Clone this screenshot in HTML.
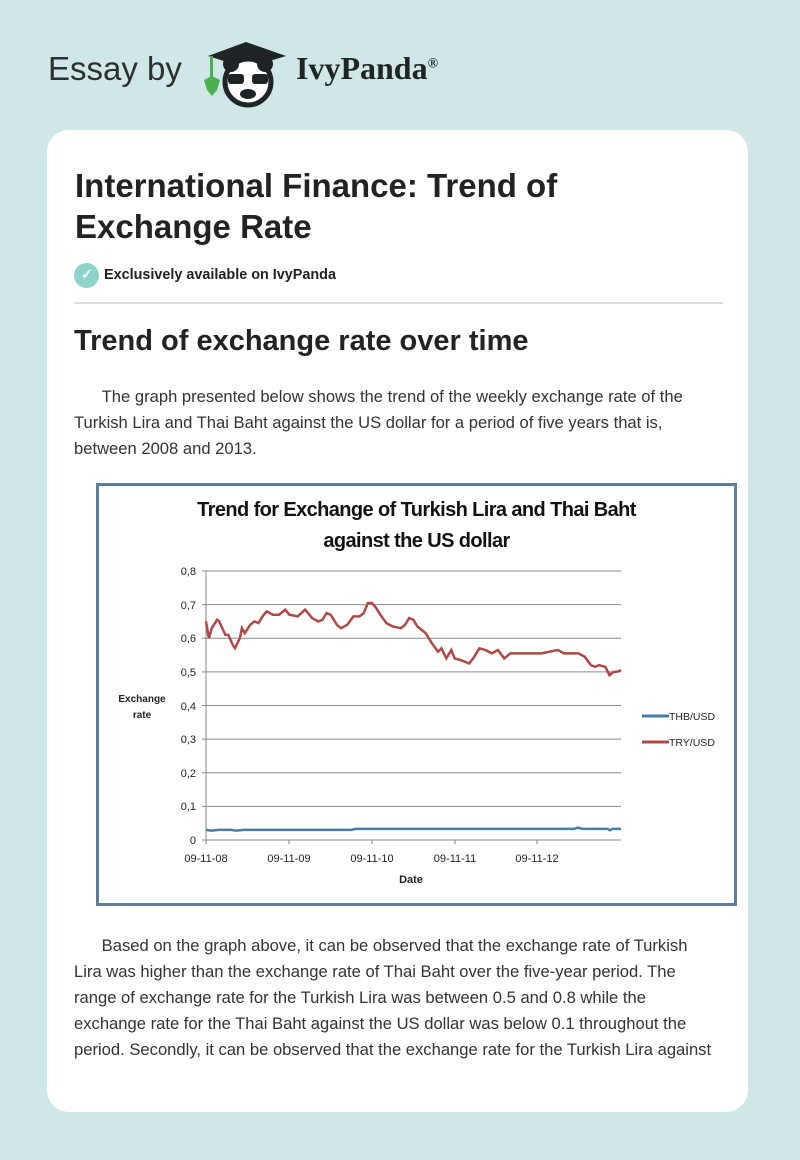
<!DOCTYPE html>
<html><head><meta charset="utf-8"><style>
*{margin:0;padding:0;box-sizing:border-box}
body{width:800px;height:1160px;background:#d0e7e7;font-family:"Liberation Sans",sans-serif;position:relative;overflow:hidden;color:#222}
.a{position:absolute;white-space:nowrap}
.card{position:absolute;left:47px;top:130px;width:701px;height:982px;background:#fff;border-radius:22px}
h1{position:absolute;left:75px;top:165px;font-size:33px;line-height:41px;font-weight:bold;color:#222;white-space:nowrap}
.p{position:absolute;left:74px;font-size:16.6px;line-height:26px;color:#333;white-space:nowrap}
</style></head><body>
<div class="a" style="left:48px;top:50px;font-size:33px;color:#2b2f31">Essay by</div>
<svg class="a" style="left:200px;top:36px" width="92" height="72" viewBox="0 0 92 72">
<polygon points="8,20 46,6 86,20 46,32" fill="#1f2426"/>
<rect x="10" y="20" width="3" height="22" fill="#4caf50"/>
<circle cx="48" cy="46" r="23" fill="#fff" stroke="#1f2426" stroke-width="5"/>
<circle cx="31" cy="28" r="8" fill="#1f2426"/><circle cx="65" cy="28" r="8" fill="#1f2426"/>
<rect x="28" y="38" width="16" height="10" rx="3" fill="#1f2426"/><rect x="52" y="38" width="16" height="10" rx="3" fill="#1f2426"/>
<ellipse cx="48" cy="58" rx="8" ry="5" fill="#1f2426"/>
<path d="M4 44 l8 -4 l8 4 l-3 10 l-5 6 l-5 -6z" fill="#4caf50"/>
</svg>
<div class="a" style="left:296px;top:50px;font-size:32px;font-weight:bold;font-family:'Liberation Serif',serif;color:#1f2426">IvyPanda<sup style="font-size:14px">®</sup></div>
<div class="card"></div>
<h1>International Finance: Trend of<br>Exchange Rate</h1>
<div class="a" style="left:74px;top:263px;width:25px;height:25px;border-radius:50%;background:#8dd3cb"></div>
<div class="a" style="left:81px;top:266px;color:#fff;font-size:14px;font-weight:bold">✓</div>
<div class="a" style="left:104px;top:267px;font-size:14.4px;font-weight:bold;color:#222">Exclusively available on IvyPanda</div>
<div class="a" style="left:74px;top:302px;width:649px;height:2px;background:#ddd"></div>
<div class="a" style="left:74px;top:325px;font-size:29px;font-weight:bold;color:#222">Trend of exchange rate over time</div>
<div class="p" style="top:384px">&nbsp;&nbsp;&nbsp;&nbsp;&nbsp;&nbsp;The graph presented below shows the trend of the weekly exchange rate of the<br>Turkish Lira and Thai Baht against the US dollar for a period of five years that is,<br>between 2008 and 2013.</div>
<div class="a" style="left:96px;top:483px;width:641px;height:423px;border:3px solid #5a7d9a;background:#fff"></div>
<div class="a" style="left:96px;top:495px;width:641px;text-align:center;font-size:20px;line-height:31px;font-weight:bold;color:#111;letter-spacing:-0.6px">Trend for Exchange of Turkish Lira and Thai Baht<br>against the US dollar</div>
<svg class="a" style="left:0;top:0" width="800" height="1160">
<g stroke="#8a8a8a" stroke-width="1">
<line x1="206" y1="571" x2="621" y2="571"/><line x1="206" y1="604.6" x2="621" y2="604.6"/><line x1="206" y1="638.2" x2="621" y2="638.2"/><line x1="206" y1="671.9" x2="621" y2="671.9"/><line x1="206" y1="705.5" x2="621" y2="705.5"/><line x1="206" y1="739.1" x2="621" y2="739.1"/><line x1="206" y1="772.7" x2="621" y2="772.7"/><line x1="206" y1="806.4" x2="621" y2="806.4"/><line x1="206" y1="840" x2="621" y2="840"/>
<line x1="206" y1="571" x2="206" y2="844"/>
<line x1="202" y1="571" x2="206" y2="571"/><line x1="202" y1="604.6" x2="206" y2="604.6"/><line x1="202" y1="638.2" x2="206" y2="638.2"/><line x1="202" y1="671.9" x2="206" y2="671.9"/><line x1="202" y1="705.5" x2="206" y2="705.5"/><line x1="202" y1="739.1" x2="206" y2="739.1"/><line x1="202" y1="772.7" x2="206" y2="772.7"/><line x1="202" y1="806.4" x2="206" y2="806.4"/><line x1="202" y1="840" x2="206" y2="840"/>
<line x1="289" y1="840" x2="289" y2="844"/><line x1="372" y1="840" x2="372" y2="844"/><line x1="455" y1="840" x2="455" y2="844"/><line x1="537" y1="840" x2="537" y2="844"/>
</g>
<g font-family="Liberation Sans,sans-serif" font-size="11" fill="#222" text-anchor="end">
<text x="196" y="575">0,8</text><text x="196" y="609">0,7</text><text x="196" y="642">0,6</text><text x="196" y="676">0,5</text><text x="196" y="710">0,4</text><text x="196" y="743">0,3</text><text x="196" y="777">0,2</text><text x="196" y="810">0,1</text><text x="196" y="844">0</text>
</g>
<g font-family="Liberation Sans,sans-serif" font-size="11" fill="#222" text-anchor="middle">
<text x="206" y="862">09-11-08</text><text x="289" y="862">09-11-09</text><text x="372" y="862">09-11-10</text><text x="455" y="862">09-11-11</text><text x="537" y="862">09-11-12</text>
<text x="411" y="883" font-weight="bold">Date</text>
<text x="142" y="702" font-weight="bold" font-size="10">Exchange</text><text x="142" y="718" font-weight="bold" font-size="10">rate</text>
</g>
<g transform="translate(95.3,840) scale(0.413,-0.33625)" fill="none">
<polyline vector-effect="non-scaling-stroke" stroke="#4a7ba6" stroke-width="2.5" points="268,30 280,28 300,30 330,30 340,28 360,30 620,30 630,33 1160,33 1168,37 1180,33 1240,33 1246,29 1252,33 1273,33"/>
<polyline vector-effect="non-scaling-stroke" stroke="#b04848" stroke-width="2.5" points="268,650 275,600 282,630 295,655 300,650 315,610 322,610 333,580 338,570 350,600 355,630 362,615 375,640 385,650 395,645 405,665 415,680 430,670 445,670 460,685 470,670 490,665 508,685 525,660 540,650 550,655 560,675 570,670 585,640 595,630 610,640 625,665 640,665 650,675 660,705 670,705 680,690 690,670 705,645 720,635 740,630 750,640 760,660 770,655 780,635 800,615 815,585 830,560 838,570 850,540 862,565 870,540 885,535 905,525 915,540 930,570 945,565 960,555 975,565 990,540 1005,555 1030,555 1060,555 1080,555 1100,560 1120,565 1135,555 1150,555 1170,555 1185,545 1200,520 1210,515 1220,520 1235,515 1245,490 1255,500 1262,500 1273,505"/>
</g>
<line x1="642" y1="716" x2="669" y2="716" stroke="#4a7ba6" stroke-width="3"/>
<line x1="642" y1="742" x2="669" y2="742" stroke="#b04848" stroke-width="3"/>
<g font-family="Liberation Sans,sans-serif" font-size="10.5" fill="#222"><text x="669" y="720">THB/USD</text><text x="669" y="746">TRY/USD</text></g>
</svg>
<div class="p" style="top:933px">&nbsp;&nbsp;&nbsp;&nbsp;&nbsp;&nbsp;Based on the graph above, it can be observed that the exchange rate of Turkish<br>Lira was higher than the exchange rate of Thai Baht over the five-year period. The<br>range of exchange rate for the Turkish Lira was between 0.5 and 0.8 while the<br>exchange rate for the Thai Baht against the US dollar was below 0.1 throughout the<br>period. Secondly, it can be observed that the exchange rate for the Turkish Lira against</div>
</body></html>
